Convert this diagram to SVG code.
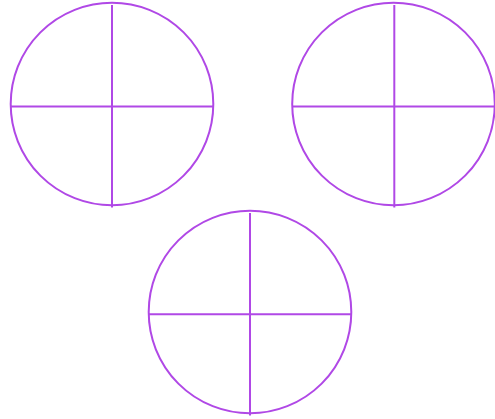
<svg xmlns="http://www.w3.org/2000/svg" width="495" height="419" viewBox="0 0 495 419">
<style>
.c{fill:none;stroke:#b048e6;stroke-width:2}
.l{stroke:#b048e6;stroke-width:2}
</style>
<rect width="495" height="419" fill="#fff"/>
<g id="circle-left">
<circle class="c" cx="112" cy="104" r="101.3"/>
<line class="l" x1="112" y1="5" x2="112" y2="207.5"/>
<line class="l" x1="10.7" y1="106.5" x2="213.3" y2="106.5"/>
</g>
<g id="circle-right">
<circle class="c" cx="393.5" cy="104" r="101.3"/>
<line class="l" x1="394.3" y1="5" x2="394.3" y2="207.5"/>
<line class="l" x1="292.2" y1="106.5" x2="494.8" y2="106.5"/>
</g>
<g id="circle-bottom">
<circle class="c" cx="250" cy="312" r="101.3"/>
<line class="l" x1="250" y1="213" x2="250" y2="415.5"/>
<line class="l" x1="148.7" y1="314.3" x2="351.3" y2="314.3"/>
</g>
<g id="connectors"/>
</svg>
